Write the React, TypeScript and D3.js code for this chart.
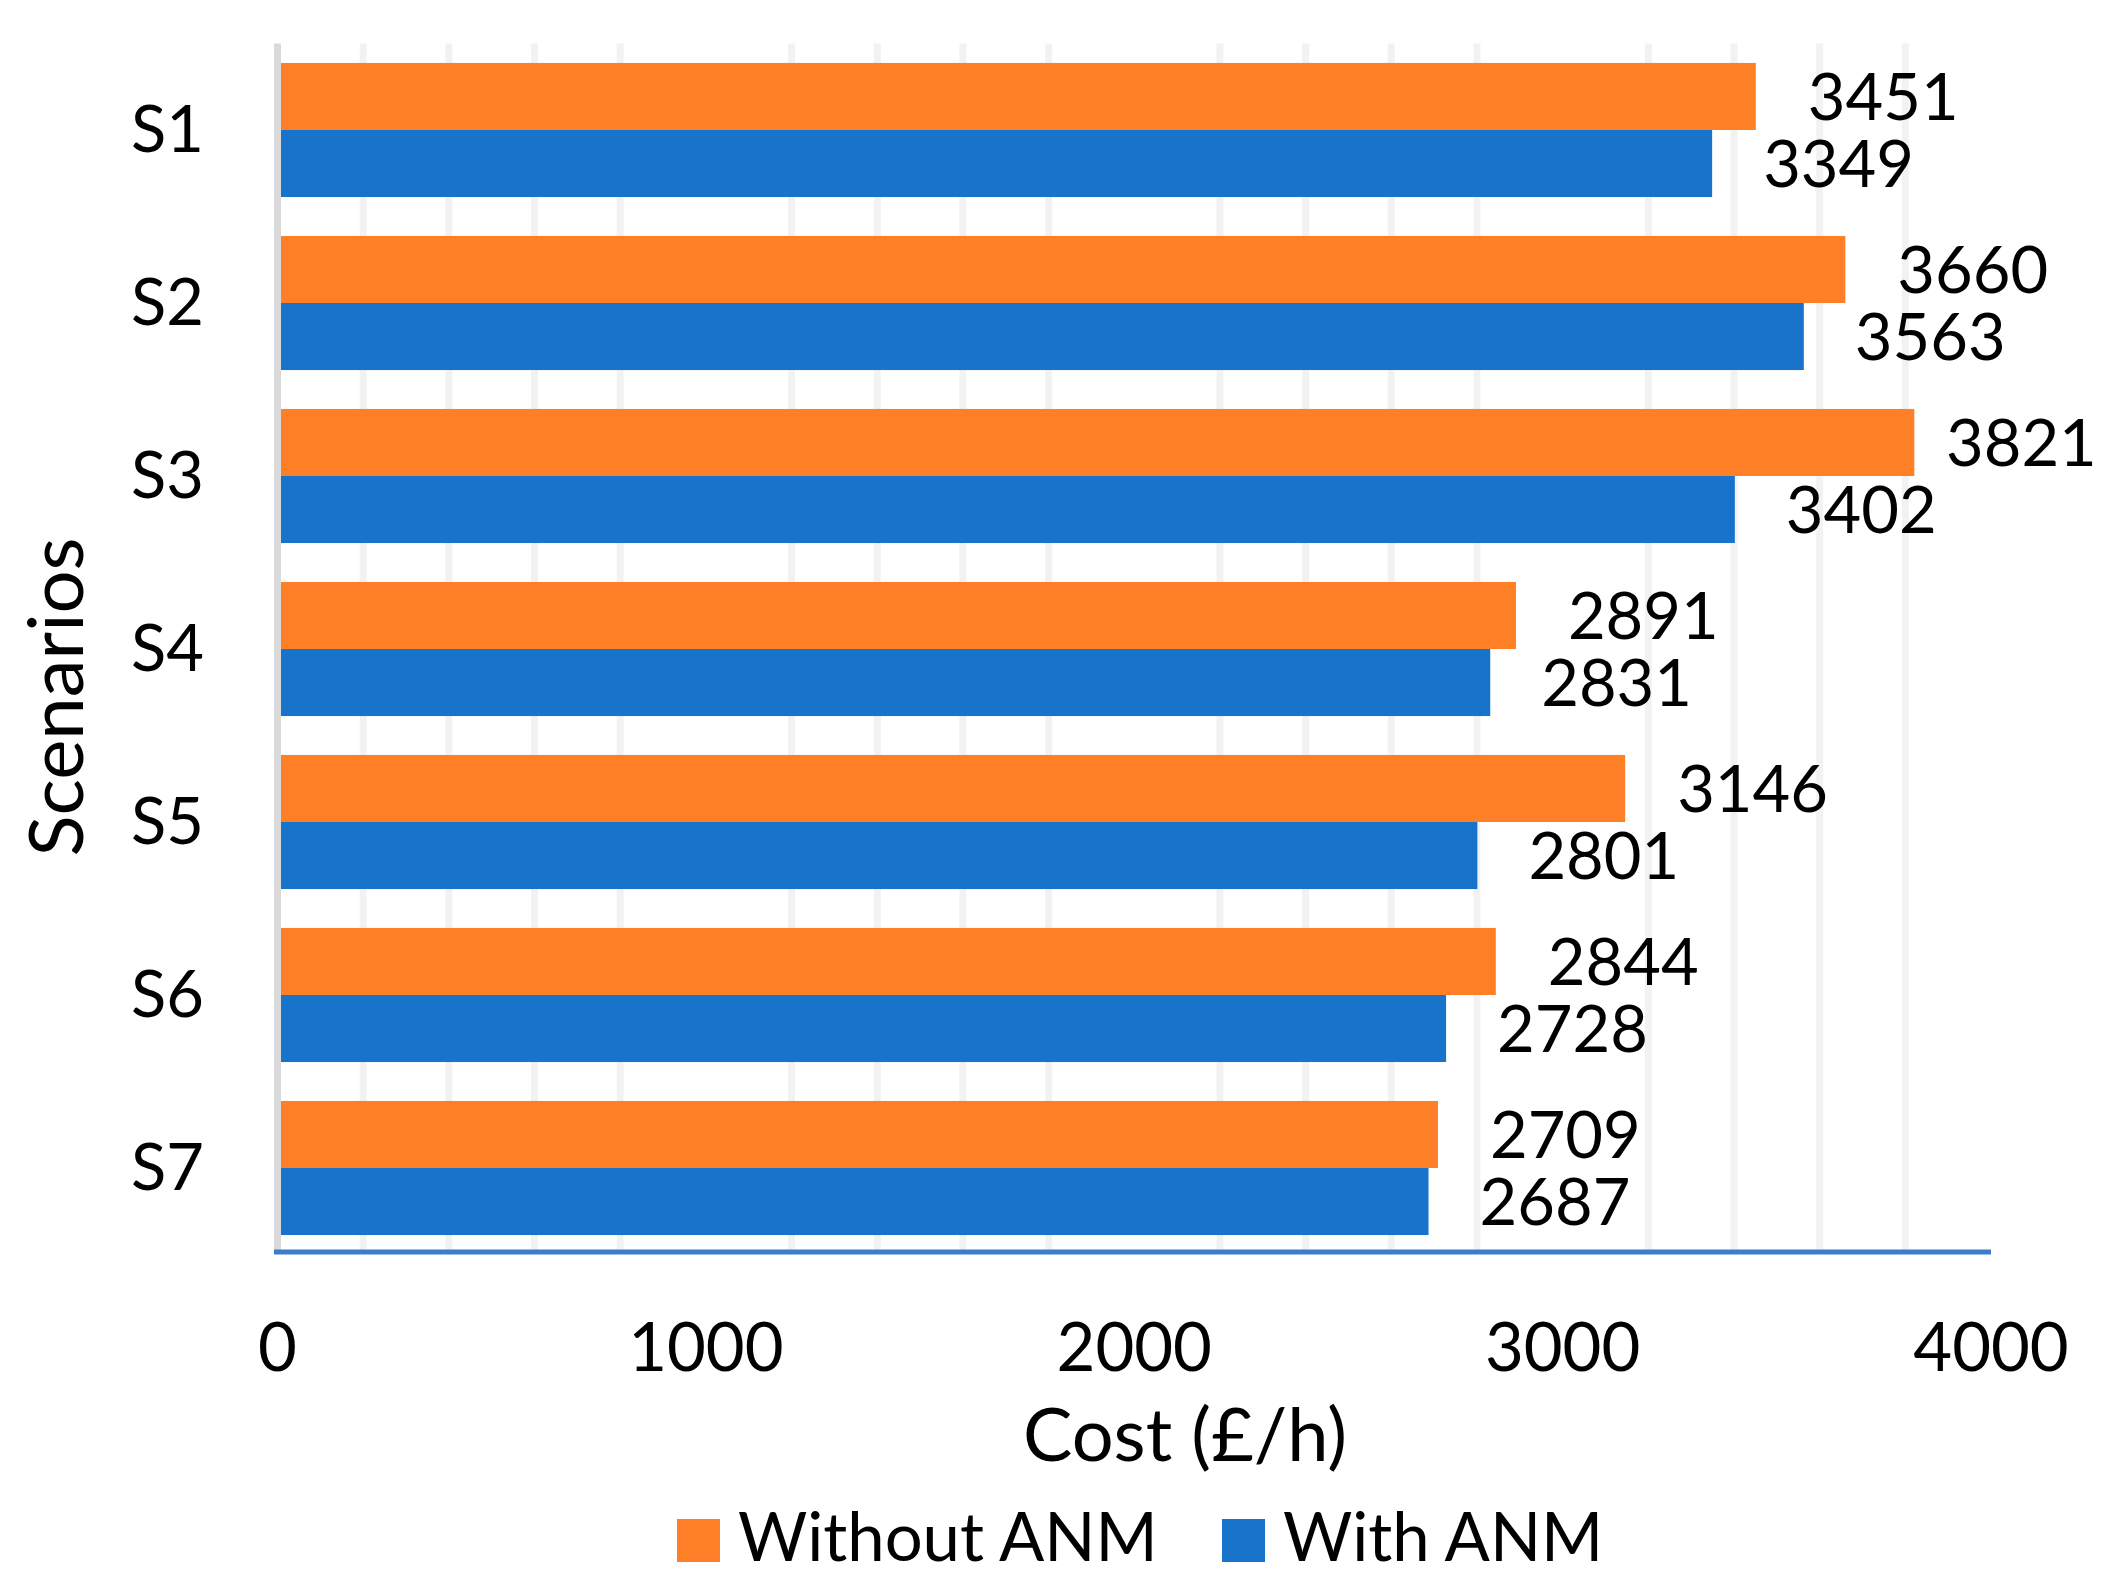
import * as d3 from "d3";

const scenarios = ["S1", "S2", "S3", "S4", "S5", "S6", "S7"];
const withoutAnm = [3451, 3660, 3821, 2891, 3146, 2844, 2709];
const withAnm = [3349, 3563, 3402, 2831, 2801, 2728, 2687];
const xTicks = [0, 1000, 2000, 3000, 4000];
const seriesNames = ["Without ANM", "With ANM"];

const ORANGE = "#FF7F27";
const BLUE = "#1874CB";
const FONT = "Lato, 'Open Sans', sans-serif";

export default function App() {
  const width = 2122;
  const height = 1594;
  const left = 277.5;
  const right = 1991;
  const top = 43.5;
  const bottom = 1254.5;

  const x = d3.scaleLinear().domain([0, 4000]).range([left, right]);
  const y = d3.scaleBand<string>().domain(scenarios).range([top, bottom]).paddingInner(0.225).paddingOuter(0.1125);
  const bh = y.bandwidth() / 2;

  // Excel draws only the minor gridlines here (every 200), majors are omitted
  const minor = d3.range(200, 4000, 200).filter((v) => v % 1000 !== 0);
  // labels are pushed back inside the chart area when they would run off it
  const labelX = (v: number) => Math.min(x(v) + 52, 1946);

  return (
    <div>
      <style>{`body{margin:0}`}</style>
      <svg width={width} height={height} viewBox={`0 0 ${width} ${height}`} style={{ display: "block", fontFamily: FONT }}>
        <rect x={0} y={0} width={width} height={height} fill="#ffffff" />
        {minor.map((v) => (
          <line key={v} x1={x(v)} x2={x(v)} y1={top} y2={1250} stroke="#f2f2f2" strokeWidth={7} />
        ))}
        {scenarios.map((s, i) => {
          const y0 = y(s) ?? 0;
          return (
            <g key={s}>
              <rect x={x(0) + 3.5} y={y0} width={x(withoutAnm[i]) - x(0) - 3.5} height={bh} fill={ORANGE} />
              <rect x={x(0) + 3.5} y={y0 + bh} width={x(withAnm[i]) - x(0) - 3.5} height={bh} fill={BLUE} />
              <text x={labelX(withoutAnm[i])} y={y0 + bh / 2} dy="0.36em" fontSize={65} fill="#000">
                {withoutAnm[i]}
              </text>
              <text x={labelX(withAnm[i]) - 1} y={y0 + bh * 1.5} dy="0.36em" fontSize={65} fill="#000">
                {withAnm[i]}
              </text>
              <text x={204} y={y0 + bh} dy="0.34em" textAnchor="end" fontSize={65} fill="#000">
                {s}
              </text>
            </g>
          );
        })}
        <line x1={x(0)} x2={x(0)} y1={top} y2={1252} stroke="#d9d9d9" strokeWidth={7} />
        <line x1={274} x2={right} y1={1252} y2={1252} stroke="#3c7ccd" strokeWidth={5} />
        {xTicks.map((t) => (
          <text key={t} x={x(t)} y={1371} textAnchor="middle" fontSize={67} fill="#000">
            {t}
          </text>
        ))}
        <text x={1185} y={1461} textAnchor="middle" fontSize={74} fill="#000">
          Cost (£/h)
        </text>
        <text transform="translate(83,697) rotate(-90)" textAnchor="middle" fontSize={76} fill="#000">
          Scenarios
        </text>
        <g>
          <rect x={677} y={1519} width={43} height={43} fill={ORANGE} />
          <text x={738} y={1561} fontSize={67} fill="#000">
            {seriesNames[0]}
          </text>
          <rect x={1222} y={1519} width={43} height={43} fill={BLUE} />
          <text x={1283} y={1561} fontSize={67} fill="#000">
            {seriesNames[1]}
          </text>
        </g>
      </svg>
    </div>
  );
}
